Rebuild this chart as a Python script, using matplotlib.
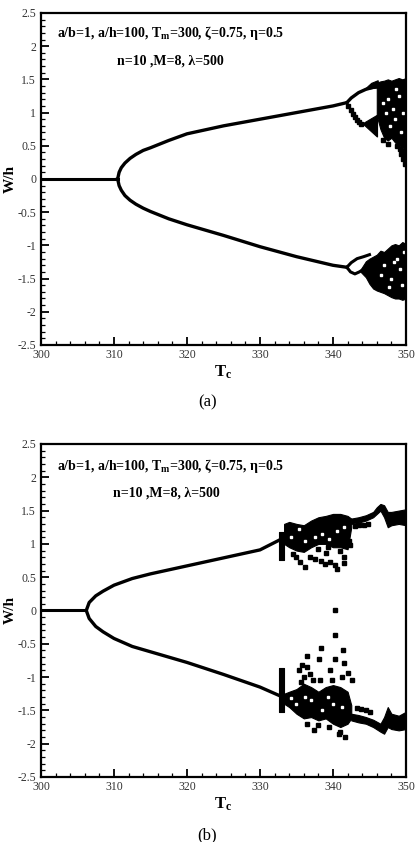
import matplotlib
matplotlib.use('Agg')
import matplotlib.pyplot as plt
from matplotlib.ticker import MultipleLocator

plt.rcParams['font.family'] = ['Liberation Serif', 'DejaVu Serif']
plt.rcParams['mathtext.fontset'] = 'custom'
plt.rcParams['mathtext.rm'] = 'Liberation Serif'
plt.rcParams['mathtext.it'] = 'Liberation Serif:italic'
plt.rcParams['mathtext.bf'] = 'Liberation Serif:bold'

# ---------------- panel (a) data ----------------
ta_zero = [300, 310.5]
wa_zero = [0, 0]
ta_branch = [310.5, 310.7, 311, 311.5, 312.2, 313, 314, 315, 317.5, 320, 325, 330, 335, 340, 341.9]
wa_upper = [0, 0.10, 0.17, 0.24, 0.31, 0.37, 0.43, 0.47, 0.58, 0.68, 0.80, 0.90, 1.00, 1.10, 1.15]
wa_lower = [0, -0.10, -0.17, -0.25, -0.32, -0.38, -0.44, -0.49, -0.60, -0.69, -0.85, -1.02, -1.17, -1.30, -1.33]

# period doubling, upper side
ta_p2_hi = [341.9, 342.5, 343.5, 344.5, 345.5, 346.3]
wa_p2_hi = [1.15, 1.22, 1.30, 1.35, 1.38, 1.40]
ta_p2_dots = [342.1, 342.4, 342.7, 343.0, 343.3, 343.6, 343.9]
wa_p2_dots = [1.10, 1.04, 0.98, 0.93, 0.89, 0.86, 0.83]
ta_wedge = [344.1, 346.1, 346.1]
wa_wedge = [0.83, 0.96, 0.63]
ta_cap = [344.3, 345.3, 346.2, 346.2, 345.3]
wa_cap = [1.34, 1.44, 1.48, 1.37, 1.36]

# chaotic band, upper side
ta_ch = [346.0, 346.5, 347, 347.5, 348, 348.5, 349, 349.5, 350]
wa_ch_hi = [1.45, 1.47, 1.48, 1.50, 1.48, 1.50, 1.52, 1.50, 1.52]
wa_ch_lo = [0.95, 0.75, 0.62, 0.58, 0.62, 0.55, 0.50, 0.48, 0.42]
ta_ch_sparse = [349.3, 349.6, 349.8, 349.5, 349.9, 348.8, 349.7, 349.2, 346.9, 347.6]
wa_ch_sparse = [0.38, 0.30, 0.22, 0.42, 0.33, 0.50, 0.36, 0.45, 0.58, 0.53]

# period doubling + chaos, lower side
ta_p2l_a = [341.9, 342.5, 343.3, 344.2, 345.0]
wa_p2l_a = [-1.33, -1.26, -1.20, -1.17, -1.14]
ta_p2l_b = [341.9, 342.4, 343.0, 343.6, 344.2]
wa_p2l_b = [-1.33, -1.40, -1.43, -1.40, -1.36]
ta_lch = [343.8, 344.5, 345, 345.5, 346, 346.5, 347, 347.5, 348, 348.5, 349, 349.5, 350]
wa_lch_hi = [-1.36, -1.24, -1.20, -1.17, -1.14, -1.08, -1.10, -1.05, -1.00, -0.98, -1.00, -0.95, -0.98]
wa_lch_lo = [-1.40, -1.48, -1.58, -1.65, -1.68, -1.70, -1.72, -1.75, -1.78, -1.80, -1.80, -1.82, -1.80]

# white speckles inside the chaotic bands of (a)
ta_holes = [347.5, 348.5, 349.0, 347.8, 349.3, 348.2, 349.6, 347.2, 348.6, 346.8,
            347.0, 348.0, 348.8, 349.4, 347.7, 349.2, 346.6, 348.3, 349.7]
wa_holes = [1.20, 0.90, 1.25, 0.80, 0.70, 1.05, 1.00, 1.00, 1.35, 1.15,
            -1.30, -1.50, -1.20, -1.60, -1.62, -1.35, -1.45, -1.25, -1.10]

# ---------------- panel (b) data ----------------
tb_zero = [300, 306.2]
wb_zero = [0, 0]
tb_branch = [306.2, 306.6, 307.5, 308.5, 310, 312.5, 315, 320, 325, 330, 332.7]
wb_upper = [0, 0.12, 0.22, 0.29, 0.38, 0.48, 0.55, 0.67, 0.79, 0.91, 1.06]
wb_lower = [0, -0.12, -0.24, -0.32, -0.42, -0.54, -0.62, -0.78, -0.96, -1.15, -1.28]

tb_strip = [332.6, 333.3]
wb_strip_up = [0.76, 1.18]
wb_strip_lo = [-1.52, -0.86]

tb_ch = [333.3, 334, 335, 336, 337, 338, 339, 340, 341, 342, 342.5]
wb_ch_hi = [1.30, 1.33, 1.30, 1.28, 1.35, 1.40, 1.42, 1.45, 1.45, 1.42, 1.38]
wb_ch_lo = [1.00, 0.95, 0.90, 0.88, 0.95, 1.00, 1.00, 0.95, 0.95, 0.92, 1.25]
tb_ch2 = [342.5, 343.5, 344.5, 345.5, 346, 346.5, 347, 347.5, 348, 349, 350]
wb_ch2_hi = [1.38, 1.40, 1.43, 1.48, 1.55, 1.60, 1.58, 1.48, 1.48, 1.50, 1.52]
wb_ch2_lo = [1.30, 1.32, 1.35, 1.40, 1.45, 1.50, 1.40, 1.25, 1.28, 1.30, 1.28]
tb_dash = [343.0, 343.6, 344.2, 344.8]
wb_dash = [1.27, 1.28, 1.29, 1.30]

tb_lch = [333.3, 334, 335, 336, 337, 338, 339, 340, 341, 342, 342.5]
wb_lch_hi = [-1.25, -1.22, -1.18, -1.10, -1.15, -1.22, -1.15, -1.12, -1.15, -1.22, -1.42]
wb_lch_lo = [-1.40, -1.45, -1.55, -1.62, -1.60, -1.65, -1.62, -1.70, -1.75, -1.70, -1.62]
tb_lch2 = [342.5, 343.5, 344.5, 345.5, 346.5, 347, 347.5, 348, 349, 350]
wb_lch2_hi = [-1.55, -1.57, -1.60, -1.64, -1.70, -1.60, -1.45, -1.55, -1.58, -1.52]
wb_lch2_lo = [-1.65, -1.68, -1.70, -1.75, -1.82, -1.85, -1.75, -1.78, -1.80, -1.78]
tb_ldash = [343.3, 343.9, 344.5, 345.1]
wb_ldash = [-1.47, -1.48, -1.50, -1.52]

tb_dots = [340.3, 340.3, 338.4, 341.4, 338.1, 340.3, 341.5, 336.4, 338.2, 342.6, 342.0,
           341.6, 335.4, 335.8, 336.9, 339.6, 337.4, 340.8,
           336.2, 335.5, 338.4, 340.3, 341.5, 339.6, 336.8, 339.1, 341.0, 341.5,
           337.6, 338.9, 340.6, 334.5, 335.0, 337.9, 339.3, 342.2, 342.3,
           336.0, 336.5, 337.2, 339.8, 341.2, 335.6, 336.5, 338.0, 339.5, 341.0]
wb_dots = [0.01, -0.37, -0.57, -0.59, -0.73, -0.73, -0.79, -0.69, -1.04, -1.04, -0.94,
           -1.90, -0.90, -0.82, -0.95, -0.90, -1.80, -1.85,
           0.66, 0.73, 0.75, 0.68, 0.71, 0.73, 0.81, 0.86, 0.89, 0.81,
           0.78, 0.70, 0.62, 0.85, 0.80, 0.92, 0.95, 1.05, 0.98,
           -1.00, -0.85, -1.05, -1.05, -1.00, -1.08, -1.70, -1.72, -1.75, -1.82]

# white speckles inside the chaotic bands of (b)
tb_holes = [335.3, 336.2, 338.5, 340.5, 337.5, 341.5, 339.5, 334.2,
            335.0, 337.0, 338.5, 340.0, 341.3, 336.2, 339.3, 334.3]
wb_holes = [1.22, 1.05, 1.15, 1.20, 1.10, 1.25, 1.08, 1.10,
            -1.40, -1.35, -1.50, -1.40, -1.45, -1.30, -1.30, -1.32]

fig = plt.figure(figsize=(4.15, 8.42), dpi=100)
ax_a = fig.add_axes([0.0988, 0.5903, 0.8795, 0.3943])
ax_b = fig.add_axes([0.0988, 0.0772, 0.8795, 0.3955])

k = 'black'


def style(ax):
    ax.set_xlim(300, 350)
    ax.set_ylim(-2.5, 2.5)
    ax.xaxis.set_major_locator(MultipleLocator(10))
    ax.xaxis.set_minor_locator(MultipleLocator(2))
    ax.yaxis.set_major_locator(MultipleLocator(0.5))
    ax.yaxis.set_minor_locator(MultipleLocator(0.1))
    ax.yaxis.set_major_formatter(matplotlib.ticker.FuncFormatter(lambda v, p: f'{v:g}'))
    ax.tick_params(which='both', direction='in', top=False, right=False,
                   labelsize=8.5, labelcolor='#333333', width=1.3)
    ax.tick_params(which='major', length=6)
    ax.tick_params(which='minor', length=3, width=0.9)
    ax.tick_params(axis='x', pad=3)
    for s in ax.spines.values():
        s.set_linewidth(1.6)
    ax.set_ylabel('W/h', fontsize=11, fontweight='bold')
    ax.yaxis.set_label_coords(-0.066, 0.5)
    ax.set_xlabel('T$_\\mathbf{c}$', fontsize=12, fontweight='bold', labelpad=2)


# ----- draw (a)
ax = ax_a
ax.plot(ta_zero, wa_zero, color=k, lw=2.2)
ax.plot(ta_branch, wa_upper, color=k, lw=2.4)
ax.plot(ta_branch, wa_lower, color=k, lw=2.4)
ax.plot(ta_p2_hi, wa_p2_hi, color=k, lw=2.4)
ax.plot(ta_p2_dots, wa_p2_dots, 's', color=k, ms=2.2)
ax.fill(ta_wedge, wa_wedge, color=k, lw=0.8)
ax.fill(ta_cap, wa_cap, color=k, lw=0.8)
ax.fill_between(ta_ch, wa_ch_lo, wa_ch_hi, color=k, lw=0.8)
ax.plot(ta_ch_sparse, wa_ch_sparse, 's', color=k, ms=2.2)
ax.plot(ta_p2l_a, wa_p2l_a, color=k, lw=2.2)
ax.plot(ta_p2l_b, wa_p2l_b, color=k, lw=2.2)
ax.fill_between(ta_lch, wa_lch_lo, wa_lch_hi, color=k, lw=0.8)
ax.plot(ta_holes, wa_holes, 's', color='white', ms=2.0)
style(ax)
ax.text(302.2, 2.2, 'a/b=1, a/h=100, T$_\\mathbf{m}$=300, ζ=0.75, η=0.5',
        fontsize=10, fontweight='bold', va='center')
ax.text(310.4, 1.78, 'n=10 ,M=8, λ=500', fontsize=10, fontweight='bold', va='center')
fig.text(0.499, 1 - 402 / 842, '(a)', fontsize=12, ha='center', va='center')

# ----- draw (b)
ax = ax_b
ax.plot(tb_zero, wb_zero, color=k, lw=2.2)
ax.plot(tb_branch, wb_upper, color=k, lw=2.4)
ax.plot(tb_branch, wb_lower, color=k, lw=2.4)
ax.fill_between(tb_strip, [wb_strip_up[0]] * 2, [wb_strip_up[1]] * 2, color=k, lw=0.8)
ax.fill_between(tb_strip, [wb_strip_lo[0]] * 2, [wb_strip_lo[1]] * 2, color=k, lw=0.8)
ax.fill_between(tb_ch, wb_ch_lo, wb_ch_hi, color=k, lw=0.8)
ax.fill_between(tb_ch2, wb_ch2_lo, wb_ch2_hi, color=k, lw=0.8)
ax.plot(tb_dash, wb_dash, 's', color=k, ms=2.2)
ax.fill_between(tb_lch, wb_lch_lo, wb_lch_hi, color=k, lw=0.8)
ax.fill_between(tb_lch2, wb_lch2_lo, wb_lch2_hi, color=k, lw=0.8)
ax.plot(tb_ldash, wb_ldash, 's', color=k, ms=2.2)
ax.plot(tb_dots, wb_dots, 's', color=k, ms=2.2)
ax.plot(tb_holes, wb_holes, 's', color='white', ms=2.0)
style(ax)
ax.text(302.2, 2.17, 'a/b=1, a/h=100, T$_\\mathbf{m}$=300, ζ=0.75, η=0.5',
        fontsize=10, fontweight='bold', va='center')
ax.text(309.9, 1.77, 'n=10 ,M=8, λ=500', fontsize=10, fontweight='bold', va='center')
fig.text(0.499, 1 - 835 / 842, '(b)', fontsize=12, ha='center', va='center')

fig.savefig('out.png', dpi=100)
